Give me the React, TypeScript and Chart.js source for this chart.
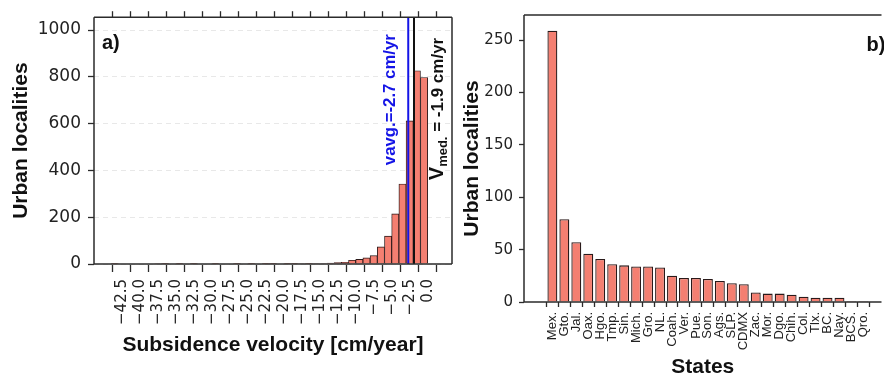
import React, { useEffect, useRef } from 'react';
import { Chart, registerables } from 'chart.js';

Chart.register(...registerables);

// ---------- Panel a) histogram of subsidence velocity ----------
const BIN_START = -44; // left edge of first bin [cm/yr]
const BIN_WIDTH = 1;
const BIN_COUNTS = [
  1, 0, 0, 0, 0, 0, 2, 1, 0, 1, 0, 1, 0, 0, 1, 0, 0, 1, 0, 1, 0, 1,
  1, 0, 1, 1, 2, 1, 2, 2, 4, 6, 7, 16, 20, 26, 36, 73, 119, 214, 342, 612,
  826, 797,
];
const X_TICKS = [-42.5, -40, -37.5, -35, -32.5, -30, -27.5, -25, -22.5, -20, -17.5, -15, -12.5, -10, -7.5, -5, -2.5, 0];
const X_TICK_LABELS = ['−42.5', '−40.0', '−37.5', '−35.0', '−32.5', '−30.0', '−27.5', '−25.0', '−22.5', '−20.0', '−17.5', '−15.0', '−12.5', '−10.0', '−7.5', '−5.0', '−2.5', '0.0'];
const X_A_MIN = -45;
const X_A_MAX = 2;
const Y_A_MAX = 1055;
const Y_A_STEP = 200;
const V_AVG = -2.7;
const V_MED = -1.9;

// ---------- Panel b) urban localities per state ----------
const STATES = ['Mex.', 'Gto.', 'Jal.', 'Oax.', 'Hgo.', 'Tmp.', 'Sin.', 'Mich.', 'Gro.', 'NL.', 'Coah.', 'Ver.', 'Pue.', 'Son.', 'Ags.', 'SLP.', 'CDMX', 'Zac.', 'Mor.', 'Dgo.', 'Chih.', 'Col.', 'Tlx.', 'BC.', 'Nay.', 'BCS.', 'Qro.'];
const STATE_COUNTS = [259, 79, 57, 46, 41, 36, 35, 34, 34, 33, 25, 23, 23, 22, 20, 18, 17, 9, 8, 8, 7, 5, 4, 4, 4, 1, 1];
const X_B_MIN = -1.82;
const X_B_MAX = 26.96;
const Y_B_MAX = 274;
const Y_B_STEP = 50;

const BAR_FILL = '#f47f71';
const BAR_EDGE = '#2a1a1a';
const AXIS_COLOR = '#2b2b2b';
const TEXT_COLOR = '#222';
const TITLE_FONT = { family: 'Liberation Sans', size: 21, weight: 'bold' as const };

function framePlugin(sides: string) {
  return {
    id: 'frame' + sides,
    afterDraw(chart: any) {
      const { ctx, chartArea: a } = chart;
      ctx.save();
      ctx.strokeStyle = AXIS_COLOR;
      ctx.lineWidth = 1.5;
      ctx.beginPath();
      if (sides.includes('l')) { ctx.moveTo(a.left, a.bottom); ctx.lineTo(a.left, a.top); }
      if (sides.includes('t')) { ctx.moveTo(a.left, a.top); ctx.lineTo(a.right, a.top); }
      if (sides.includes('r')) { ctx.moveTo(a.right, a.top); ctx.lineTo(a.right, a.bottom); }
      if (sides.includes('b')) { ctx.moveTo(a.left, a.bottom); ctx.lineTo(a.right, a.bottom); }
      ctx.stroke();
      ctx.restore();
    },
  };
}

const annotA = {
  id: 'annotA',
  afterDatasetsDraw(chart: any) {
    const { ctx, chartArea: a, scales } = chart;
    const xa = scales.x.getPixelForValue(V_AVG);
    const xm = scales.x.getPixelForValue(V_MED);
    ctx.save();
    ctx.textAlign = 'left';
    ctx.textBaseline = 'alphabetic';
    ctx.translate(xa - 13, a.top + 148);
    ctx.rotate(-Math.PI / 2);
    ctx.fillStyle = '#1414e6';
    ctx.font = 'bold 16.8px "Liberation Sans"';
    ctx.fillText(`vavg.=${V_AVG} cm/yr`, 0, 0);
    ctx.restore();

    ctx.save();
    ctx.textAlign = 'left';
    ctx.textBaseline = 'alphabetic';
    ctx.translate(xm + 29, a.top + 163);
    ctx.rotate(-Math.PI / 2);
    ctx.fillStyle = '#111';
    ctx.font = 'bold 20px "Liberation Sans"';
    ctx.fillText('V', 0, 0);
    let w = ctx.measureText('V').width;
    ctx.font = 'bold 13px "Liberation Sans"';
    ctx.fillText('med.', w, 4);
    w += ctx.measureText('med.').width;
    ctx.font = 'bold 17px "Liberation Sans"';
    ctx.fillText(` = ${V_MED} cm/yr`, w, 0);
    ctx.restore();

    ctx.save();
    ctx.fillStyle = '#111';
    ctx.font = 'bold 20px "Liberation Sans"';
    ctx.textAlign = 'left';
    ctx.textBaseline = 'middle';
    ctx.fillText('a)', a.left + 8, a.top + 26);
    ctx.restore();
  },
};

const annotB = {
  id: 'annotB',
  afterDraw(chart: any) {
    const { ctx, chartArea: a } = chart;
    ctx.save();
    ctx.fillStyle = '#111';
    ctx.font = 'bold 20px "Liberation Sans"';
    ctx.textAlign = 'left';
    ctx.textBaseline = 'middle';
    ctx.fillText('b)', a.right - 15, a.top + 30);
    ctx.restore();
  },
};

export default function App() {
  const refA = useRef<HTMLCanvasElement>(null);
  const refB = useRef<HTMLCanvasElement>(null);

  useEffect(() => {
    Chart.defaults.font.family = 'DejaVu Sans';
    const setTicks = (vals: number[]) => (s: any) => { s.ticks = vals.map((v) => ({ value: v })); };

    const chartA = new Chart(refA.current as HTMLCanvasElement, {
      type: 'bar',
      data: {
        datasets: [
          {
            type: 'line',
            data: [{ x: V_AVG, y: 0 }, { x: V_AVG, y: Y_A_MAX }],
            borderColor: '#1414e6', borderWidth: 2, pointRadius: 0, order: 0,
          } as any,
          {
            type: 'line',
            data: [{ x: V_MED, y: 0 }, { x: V_MED, y: Y_A_MAX }],
            borderColor: '#111', borderWidth: 2, pointRadius: 0, order: 0,
          } as any,
          {
            type: 'bar',
            data: BIN_COUNTS.map((c, i) => ({ x: BIN_START + (i + 0.5) * BIN_WIDTH, y: c })),
            backgroundColor: BAR_FILL,
            borderColor: BAR_EDGE,
            borderWidth: 0.9,
            barPercentage: 1,
            categoryPercentage: 1,
            order: 1,
          } as any,
        ],
      },
      options: {
        responsive: false,
        animation: false,
        layout: { padding: { top: 8, right: 8, left: 0, bottom: 0 } },
        plugins: { legend: { display: false }, tooltip: { enabled: false } },
        scales: {
          x: {
            type: 'linear', position: 'bottom', min: X_A_MIN, max: X_A_MAX,
            afterBuildTicks: setTicks(X_TICKS),
            afterFit: (s: any) => { s.height = 116; },
            ticks: {
              autoSkip: false, minRotation: 90, maxRotation: 90, padding: 7, color: TEXT_COLOR,
              font: { family: 'DejaVu Sans', size: 15 },
              callback: (v: any) => X_TICK_LABELS[X_TICKS.indexOf(Number(v))],
            },
            grid: { drawOnChartArea: false, drawTicks: true, tickLength: 8, tickColor: AXIS_COLOR, tickWidth: 1.3 },
            border: { display: false },
            title: { display: true, text: 'Subsidence velocity [cm/year]', font: TITLE_FONT, color: '#111', padding: { top: 0, bottom: 22 } },
          },
          x2: {
            type: 'linear', position: 'top', min: X_A_MIN, max: X_A_MAX,
            afterBuildTicks: setTicks(X_TICKS),
            afterFit: (s: any) => { s.height = 6; },
            ticks: { display: false },
            grid: { drawOnChartArea: false, drawTicks: true, tickLength: 6, tickColor: AXIS_COLOR, tickWidth: 1.3 },
            border: { display: false },
          },
          y: {
            min: 0, max: Y_A_MAX,
            afterFit: (s: any) => { s.width = 94; },
            ticks: {
              stepSize: Y_A_STEP, includeBounds: false, padding: 7, color: TEXT_COLOR,
              font: { family: 'DejaVu Sans', size: 17 },
              callback: (v: any) => String(v),
            },
            grid: { color: '#e8e8e8', lineWidth: 1, drawTicks: true, tickLength: 6, tickColor: AXIS_COLOR, tickWidth: 1.3 },
            border: { display: false, dash: [5, 4] },
            title: { display: true, text: 'Urban localities', font: TITLE_FONT, color: '#111', padding: { top: 9, bottom: 0 } },
          },
        },
      } as any,
      plugins: [annotA, framePlugin('ltrb')],
    });

    const chartB = new Chart(refB.current as HTMLCanvasElement, {
      type: 'bar',
      data: {
        datasets: [
          {
            data: STATE_COUNTS.map((c, i) => ({ x: i, y: c })),
            backgroundColor: BAR_FILL,
            borderColor: BAR_EDGE,
            borderWidth: 1.3,
            barPercentage: 0.83,
            categoryPercentage: 1,
          } as any,
        ],
      },
      options: {
        responsive: false,
        animation: false,
        layout: { padding: { top: 7, right: 0, left: 0, bottom: 0 } },
        plugins: { legend: { display: false }, tooltip: { enabled: false } },
        scales: {
          x: {
            type: 'linear', min: X_B_MIN, max: X_B_MAX,
            afterBuildTicks: setTicks(STATES.map((_, i) => i)),
            afterFit: (s: any) => { s.height = 78; },
            ticks: {
              autoSkip: false, minRotation: 90, maxRotation: 90, padding: 5, color: TEXT_COLOR,
              font: { family: 'Liberation Sans', size: 13 },
              callback: (v: any) => STATES[Number(v)],
            },
            grid: { drawOnChartArea: false, drawTicks: true, tickLength: 5, tickColor: AXIS_COLOR, tickWidth: 1.3 },
            border: { display: false },
            title: { display: true, text: 'States', font: TITLE_FONT, color: '#111', padding: { top: 0, bottom: 0 } },
          },
          y: {
            min: 0, max: Y_B_MAX,
            afterFit: (s: any) => { s.width = 64; },
            ticks: {
              stepSize: Y_B_STEP, includeBounds: false, padding: 6, color: TEXT_COLOR,
              font: { family: 'DejaVu Sans', size: 15 },
              callback: (v: any) => String(v),
            },
            grid: { drawOnChartArea: false, drawTicks: true, tickLength: 5, tickColor: AXIS_COLOR, tickWidth: 1.3 },
            border: { display: false },
            title: { display: true, text: 'Urban localities', font: TITLE_FONT, color: '#111', padding: { top: 0, bottom: 0 } },
          },
        },
      } as any,
      plugins: [annotB, framePlugin('ltb')],
    });

    return () => {
      chartA.destroy();
      chartB.destroy();
    };
  }, []);

  return (
    <div style={{ position: 'fixed', left: 0, top: 0, width: 884, height: 380, background: '#fff' }}>
      <canvas ref={refA} width={460} height={380} style={{ position: 'absolute', left: 0, top: 0 }} />
      <canvas ref={refB} width={424} height={380} style={{ position: 'absolute', left: 460, top: 0 }} />
    </div>
  );
}
